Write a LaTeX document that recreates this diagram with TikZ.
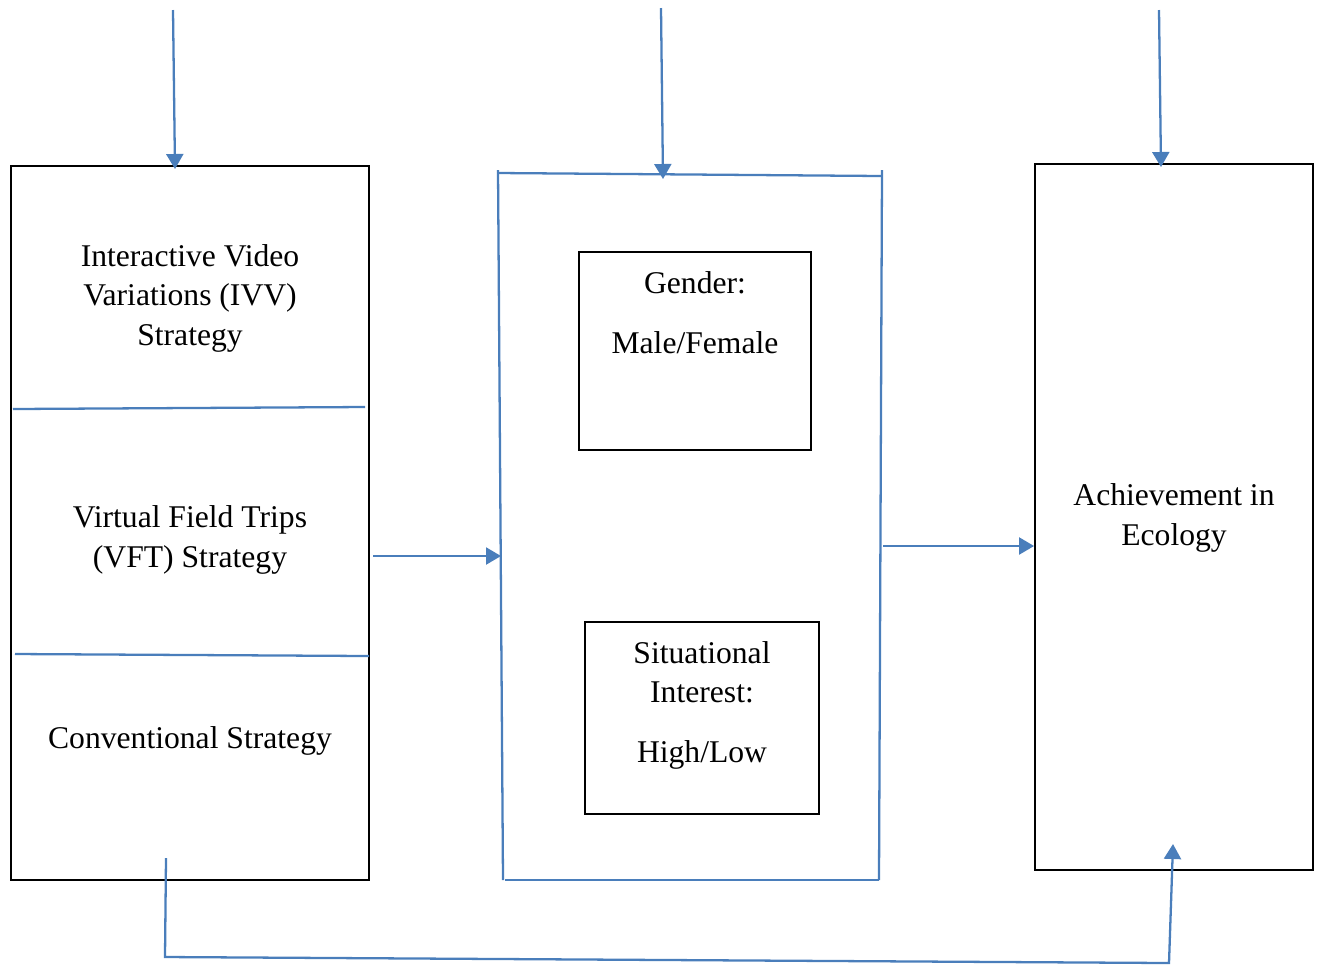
\documentclass[tikz,border=0pt]{standalone}
\usepackage{fontspec}
\setmainfont{Liberation Serif}
\usetikzlibrary{arrows.meta}
\definecolor{lineblue}{RGB}{74,126,187}
\tikzset{box/.style={draw=black, line width=1.1pt, inner sep=0pt}}
\tikzset{label/.style={align=center, font=\fontsize{18}{22.5}\selectfont}}
\tikzset{link/.style={draw=lineblue, line width=1.3pt, -{Triangle[width=0.34cm,length=0.3cm]}}}
\tikzset{rule/.style={draw=lineblue, line width=1.3pt}}

\begin{document}
\begin{tikzpicture}[x=0.02cm, y=-0.02cm]
\useasboundingbox (0,0) rectangle (1321,965);
% left column
\node [box, minimum width=7.16cm, minimum height=14.28cm] (strat) at (190,523) {};
\draw [rule] (13,409) -- (365,407);
\draw [rule] (15,654) -- (369,656);
\node [label] (ivv) at (190,298) {Interactive Video\\Variations (IVV)\\Strategy};
\node [label] (vft) at (190,540) {Virtual Field Trips\\(VFT) Strategy};
\node [label] (conv) at (190,741) {Conventional Strategy};
% middle column
\coordinate (mtl) at (498,173);
\coordinate (mtr) at (882,176);
\coordinate (mbr) at (879,880);
\coordinate (mbl) at (503,880);
\draw [rule] (mtl) -- (mtr);
\draw [rule] (498,170) -- (mbl);
\draw [rule] (882,170) -- (mbr);
\draw [rule] (505,880) -- (mbr);
\node [box, minimum width=4.64cm, minimum height=3.96cm] (gender) at (695,351) {};
\node [label, anchor=north] at (695,265) {Gender:\\[0.41cm]Male/Female};
\node [box, minimum width=4.68cm, minimum height=3.84cm] (interest) at (702,718) {};
\node [label, anchor=north] at (702,635) {Situational\\Interest:\\[0.41cm]High/Low};
% right column
\node [box, minimum width=5.56cm, minimum height=14.12cm] (achieve) at (1174,517) {};
\node [label] (eco) at (1174,518) {Achievement in\\Ecology};
% connectors
\coordinate (t1) at (173,10);
\coordinate (t2) at (661,8);
\coordinate (t3) at (1159,10);
\draw [link] (t1) -- (175,169);
\draw [link] (t2) -- (663,179);
\draw [link] (t3) -- (1161,167);
\coordinate (s1) at (373,556);
\coordinate (s2) at (883,546);
\draw [link] (s1) -- (501,556);
\draw [link] (s2) -- (achieve.west |- s2);
\coordinate (b0) at (166,858);
\coordinate (b1) at (165,957);
\coordinate (b2) at (1169,963);
\draw [link] (b0) -- (b1) -- (b2) -- (1173,844);
\end{tikzpicture}
\end{document}
